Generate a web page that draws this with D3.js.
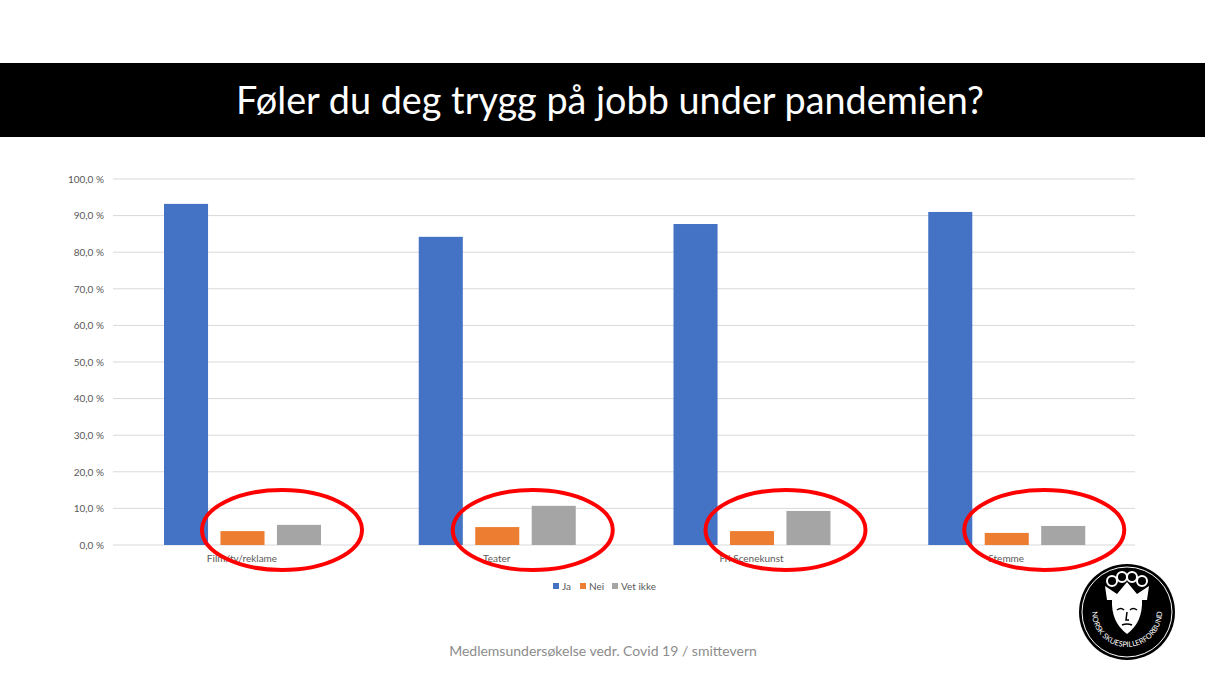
<!DOCTYPE html>
<html>
<head>
<meta charset="utf-8">
<style>
  body { margin: 0; background: #fff; }
  svg { display: block; }
</style>
</head>
<body>
<svg width="1205" height="679"></svg>
<script src="https://cdn.jsdelivr.net/npm/d3@7/dist/d3.min.js"></script>
<script>
    const width = 1205;
    const height = 679;

    // data
    const categories = ["Film/tv/reklame", "Teater", "Fri Scenekunst", "Stemme"];
    const seriesNames = ["Ja", "Nei", "Vet ikke"];
    const ja = [93.2, 84.2, 87.7, 91.0];
    const nei = [3.8, 4.9, 3.8, 3.3];
    const vetIkke = [5.5, 10.7, 9.3, 5.2];
    const yTicks = [0, 10, 20, 30, 40, 50, 60, 70, 80, 90, 100];
    const colors = ["#4472c4", "#ed7d31", "#a5a5a5"];

    const title = "Føler du deg trygg på jobb under pandemien?";
    const footer = "Medlemsundersøkelse vedr. Covid 19 / smittevern";

    const rows = categories.map((c, i) => ({ cat: c, values: [ja[i], nei[i], vetIkke[i]] }));

    const font = "Lato, 'Open Sans', sans-serif";
    const svg = d3.select("svg");

    // title banner
    svg.append("rect")
        .attr("x", 0).attr("y", 63)
        .attr("width", width).attr("height", 74)
        .attr("fill", "#000");
    svg.append("text")
        .attr("x", 610).attr("y", 114)
        .attr("text-anchor", "middle")
        .attr("fill", "#fff")
        .attr("font-family", font)
        .attr("font-size", 37.8)
        .text(title);

    // chart area
    const plot = { left: 113, right: 1135, top: 179, bottom: 545 };

    const y = d3.scaleLinear().domain([0, 100]).range([plot.bottom, plot.top]);
    const x0 = d3.scaleBand().domain(categories).range([plot.left, 1132]);
    const x1 = d3.scaleBand().domain(seriesNames).range([51, 208]).paddingInner(0.22);

    // gridlines
    svg.append("g")
        .selectAll("line")
        .data(yTicks)
        .join("line")
        .attr("x1", plot.left).attr("x2", plot.right)
        .attr("y1", d => y(d)).attr("y2", d => y(d))
        .attr("stroke", "#d9d9d9")
        .attr("stroke-width", 1);

    // y axis labels
    const yAxis = d3.axisLeft(y)
        .tickValues(yTicks)
        .tickSize(0)
        .tickPadding(0)
        .tickFormat(d => d.toFixed(1).replace(".", ",") + " %");
    const yg = svg.append("g")
        .attr("transform", `translate(${plot.left - 9},0)`)
        .call(yAxis);
    yg.select(".domain").remove();
    yg.selectAll("text")
        .attr("fill", "#595959")
        .attr("font-family", font)
        .attr("font-size", 10);

    // bars
    const groups = svg.append("g")
        .selectAll("g")
        .data(rows)
        .join("g")
        .attr("transform", d => `translate(${x0(d.cat)},0)`);

    groups.selectAll("rect")
        .data(d => d.values.map((v, i) => ({ key: seriesNames[i], value: v, i })))
        .join("rect")
        .attr("x", d => x1(d.key))
        .attr("y", d => y(d.value))
        .attr("width", x1.bandwidth())
        .attr("height", d => y(0) - y(d.value))
        .attr("fill", d => colors[d.i]);

    // category labels
    const xAxis = d3.axisBottom(x0).tickSize(0).tickPadding(0);
    const xg = svg.append("g")
        .attr("transform", `translate(0,${plot.bottom + 10})`)
        .call(xAxis);
    xg.select(".domain").remove();
    xg.selectAll(".tick").attr("transform", d => `translate(${x0(d) + 129},0)`);
    xg.selectAll("text")
        .attr("fill", "#595959")
        .attr("font-family", font)
        .attr("font-size", 10);

    // red highlight ellipses (hand drawn, so slightly uneven)
    const ellipseShift = [169, 165, 163, 167];
    svg.append("g")
        .selectAll("ellipse")
        .data(categories)
        .join("ellipse")
        .attr("cx", (d, i) => x0(d) + ellipseShift[i])
        .attr("cy", 530)
        .attr("rx", 80)
        .attr("ry", 40)
        .attr("fill", "none")
        .attr("stroke", "#ff0000")
        .attr("stroke-width", 4);

    // legend
    const legendX = [553, 580, 612];
    const legend = svg.append("g")
        .selectAll("g")
        .data(seriesNames)
        .join("g")
        .attr("transform", (d, i) => `translate(${legendX[i]},583)`);
    legend.append("rect")
        .attr("width", 6).attr("height", 6)
        .attr("fill", (d, i) => colors[i]);
    legend.append("text")
        .attr("x", 9).attr("y", 6.5)
        .attr("fill", "#595959")
        .attr("font-family", font)
        .attr("font-size", 10)
        .text(d => d);

    // footer
    svg.append("text")
        .attr("x", 603).attr("y", 656)
        .attr("text-anchor", "middle")
        .attr("fill", "#8c8c8c")
        .attr("font-family", font)
        .attr("font-size", 14)
        .text(footer);

    // logo
    const logo = svg.append("g").attr("transform", "translate(1127,612)");
    logo.append("circle").attr("r", 48).attr("fill", "#000");
    logo.append("circle").attr("r", 45).attr("fill", "none").attr("stroke", "#fff").attr("stroke-width", 1);
    const arcPath = d3.path();
    arcPath.arc(0, 0, 35, Math.PI * 1.12, -Math.PI * 0.12, true);
    logo.append("path").attr("id", "logoText").attr("d", arcPath.toString()).attr("fill", "none");
    logo.append("text")
        .attr("fill", "#fff")
        .attr("font-family", font)
        .attr("font-size", 7.5)
        .append("textPath")
        .attr("href", "#logoText")
        .attr("startOffset", "50%")
        .attr("text-anchor", "middle")
        .text("NORSK SKUESPILLERFORBUND");
    // crown
    logo.append("path")
        .attr("d", "M-20,-12 L-22,-26 L-10,-18 L0,-30 L10,-18 L22,-26 L20,-12 Z")
        .attr("fill", "#fff");
    logo.selectAll(".jewel")
        .data([[-14, -32], [-4, -36], [6, -36], [16, -32]])
        .join("circle")
        .attr("cx", d => d[0] - 1)
        .attr("cy", d => d[1] + 1)
        .attr("r", 5)
        .attr("fill", "#000")
        .attr("stroke", "#fff")
        .attr("stroke-width", 2);
    // face
    logo.append("path")
        .attr("d", "M-15,-12 Q-16,10 0,22 Q16,10 15,-12 Z")
        .attr("fill", "#fff");
    logo.append("path")
        .attr("d", "M-10,-2 Q-6,-5 -3,-2 M3,-2 Q6,-5 10,-2 M0,0 L-1,8 L2,8 M-5,13 Q0,11 5,13")
        .attr("fill", "none")
        .attr("stroke", "#000")
        .attr("stroke-width", 1.5);
</script>
</body>
</html>
